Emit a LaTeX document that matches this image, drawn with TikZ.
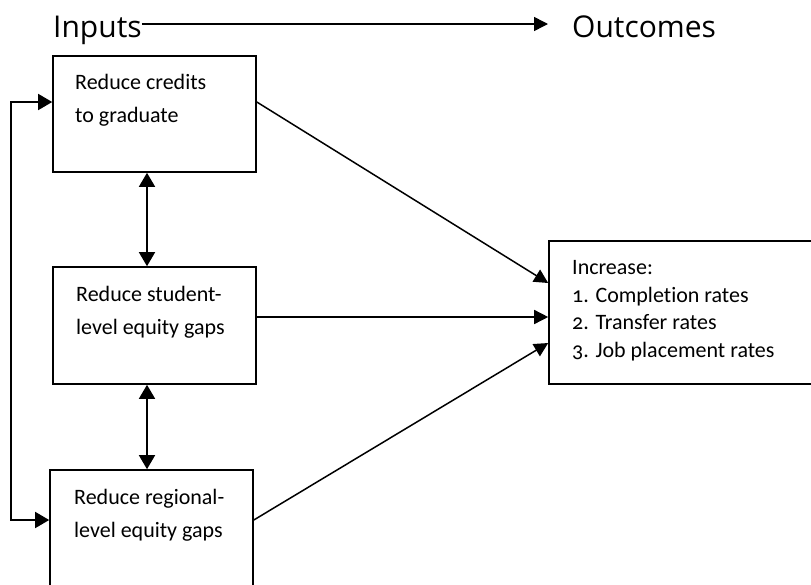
\documentclass[tikz,border=0pt]{standalone}
\usepackage{fontspec}
\setmainfont{Carlito}[Numbers=OldStyle,RawFeature={-liga}]
\newfontfamily\headfont{Open Sans}
\usetikzlibrary{arrows.meta,calc}
\begin{document}
\begin{tikzpicture}[x=1pt,y=-1pt,
  box/.style={draw,line width=1.6pt,rectangle,inner sep=0pt},
  head/.style={font=\headfont\fontsize{30}{34}\selectfont,inner sep=0pt,anchor=base west},
  btext/.style={font=\fontsize{22}{32.5}\selectfont,inner sep=0pt,anchor=base west,align=left},
  rtext/.style={font=\fontsize{22}{27.4}\selectfont,inner sep=0pt,anchor=base west,align=left},
  conn/.style={line width=1.5pt},
  tip/.style={-{Triangle[length=14pt,width=14pt]}},
  dtip/.style={{Triangle[length=14pt,width=16pt]}-{Triangle[length=14pt,width=16pt]}}]
\useasboundingbox (0,0) rectangle (811,584);
\clip (0,0) rectangle (811,584);
% headers
\node[head] (inputs) at (53,37) {Inputs};
\node[head] (outcomes) at (572,37) {Outcomes};
\draw[conn,tip] ([yshift=13pt]inputs.base east) -- ([yshift=13pt,xshift=-24pt]outcomes.base west);
% boxes
\node[box,minimum width=203pt,minimum height=116pt] (b1) at (154.5,114) {};
\node[box,minimum width=203pt,minimum height=117pt] (b2) at (154.5,325.5) {};
\node[box,minimum width=203pt,minimum height=130pt] (b3) at (151.5,535) {};
\node[box,minimum width=263pt,minimum height=143pt] (r) at (680.5,312.5) {};
% texts (anchor is the baseline of the last line)
\node[btext] (t1) at (75,122) {Reduce credits\\to graduate};
\node[btext] (t2) at (76,334) {Reduce student-\\level equity gaps};
\node[btext] (t3) at (74,537) {Reduce regional-\\level equity gaps};
\node[rtext] (tr) at (572,357) {Increase:\\1. Completion rates\\2. Transfer rates\\3. Job placement rates};
% vertical links
\draw[conn,dtip] ([xshift=-7.5pt]b1.south) -- ([xshift=-7.5pt]b1.south |- b2.north);
\draw[conn,dtip] ([xshift=-7.5pt]b2.south) -- ([xshift=-7.5pt]b2.south |- b3.north);
% feedback loop
\draw[conn,dtip] ([yshift=12pt]b1.west) -- ++(-41,0) |- ([yshift=15pt]b3.west);
% to outcomes
\draw[conn,tip] ([yshift=12pt]b1.east) -- ([yshift=29.5pt]r.west);
\draw[conn,tip] ([yshift=8.5pt]b2.east) -- ([yshift=-4.5pt]r.west);
\draw[conn,tip] ([yshift=15pt]b3.east) -- ([yshift=-30.5pt]r.west);
\end{tikzpicture}
\end{document}
